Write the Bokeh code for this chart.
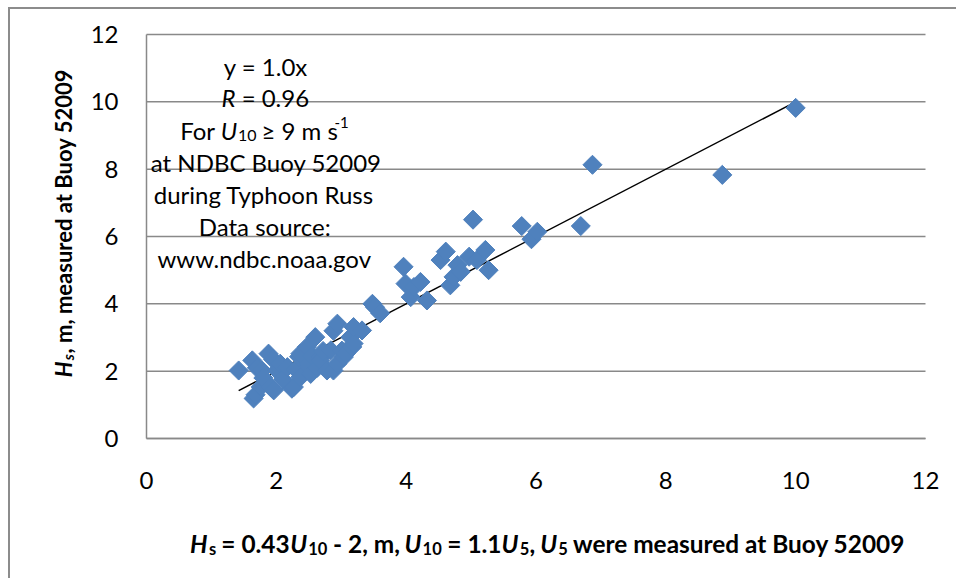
import math
from bokeh.plotting import figure
from bokeh.models import Label, FixedTicker
from bokeh.embed import file_html
from bokeh.resources import INLINE

# ---------------- data ----------------
x_pred = [1.42, 1.65, 1.68, 1.63, 1.70, 1.78, 1.76, 1.80, 1.88, 1.91, 1.96, 1.95,
          2.01, 2.06, 2.10, 2.17, 2.24, 2.27, 2.30, 2.35, 2.37, 2.37, 2.47, 2.50,
          2.53, 2.55, 2.60, 2.63, 2.68, 2.68, 2.72, 2.78, 2.84, 2.88, 2.88, 2.94,
          2.94, 3.01, 3.04, 3.07, 3.14, 3.17, 3.19, 3.19, 3.32, 3.48, 3.52, 3.60,
          3.96, 3.99, 4.07, 4.12, 4.22, 4.32, 4.53, 4.61, 4.68, 4.73, 4.79, 4.84,
          4.97, 5.03, 5.09, 5.22, 5.27, 5.78, 5.93, 6.02, 6.69, 6.87, 8.87, 10.0]
y_meas = [2.02, 1.19, 1.30, 2.32, 2.10, 2.02, 1.53, 1.80, 2.52, 1.53, 1.43, 2.35,
          2.02, 2.22, 1.75, 2.12, 1.48, 1.53, 2.05, 2.43, 2.52, 1.82, 2.72, 2.22,
          1.92, 2.45, 3.01, 2.10, 2.42, 2.32, 2.60, 2.02, 2.62, 2.02, 3.20, 2.22,
          3.41, 2.61, 2.42, 2.52, 3.01, 2.72, 2.82, 3.31, 3.21, 4.00, 3.90, 3.72,
          5.10, 4.60, 4.20, 4.50, 4.65, 4.10, 5.30, 5.55, 4.55, 4.80, 5.15, 4.95,
          5.40, 6.50, 5.30, 5.60, 5.00, 6.31, 5.92, 6.14, 6.31, 8.13, 7.83, 9.82]
slope = 1.0
x_ticks = [0, 2, 4, 6, 8, 10, 12]
y_ticks = [0, 2, 4, 6, 8, 10, 12]
X_LO, X_HI = 0, 12
Y_LO, Y_HI = 0, 12

# ---------------- layout (page pixels) ----------------
OX, OY = 10, 9            # page offset of the figure (margin + border)
W, H = 958 - OX, 580 - OY
FL, FT, FW, FH = 146, 34, 779, 404   # plot area on the page


def X(px):
    return X_LO + (X_HI - X_LO) * (px - FL) / FW


def Y(py):
    return Y_LO + (Y_HI - Y_LO) * (FT + FH - py) / FH


FONT = "Lato"
GRID = "#898989"
BLUE = "#4F81BD"

# the frame covers the whole canvas; axes are fixed at x=0 / y=0
p = figure(width=W, height=H, title=None,
           x_range=(X(OX), X(958)), y_range=(Y(580), Y(OY)),
           output_backend="svg", toolbar_location=None,
           min_border_left=0, min_border_right=0,
           min_border_top=0, min_border_bottom=0)
p.styles = {"margin-left": "8px", "margin-top": "7px",
            "border-left": "2px solid #8c8c8c", "border-top": "2px solid #8c8c8c"}
p.outline_line_color = None
p.background_fill_color = "white"
p.border_fill_color = "white"
p.xgrid.visible = False
p.ygrid.visible = False

for ax in (p.xaxis[0], p.yaxis[0]):
    ax.major_tick_line_color = None
    ax.minor_tick_line_color = None
    ax.major_tick_out = 0
    ax.major_tick_in = 0
    ax.major_label_text_font = FONT
    ax.major_label_text_font_size = "24px"
    ax.major_label_text_color = "black"
    ax.axis_line_color = GRID
    ax.axis_line_width = 1.5
p.xaxis.ticker = FixedTicker(ticks=x_ticks)
p.yaxis.ticker = FixedTicker(ticks=y_ticks)
p.xaxis.fixed_location = Y_LO
p.yaxis.fixed_location = X_LO
p.xaxis.bounds = (X_LO, X_HI)
p.yaxis.bounds = (Y_LO, Y_HI)
p.xaxis.major_label_standoff = 33
p.yaxis.major_label_standoff = 28

# horizontal gridlines across the plot area
p.segment(x0=[X_LO] * len(y_ticks), y0=y_ticks, x1=[X_HI] * len(y_ticks), y1=y_ticks,
          line_color=GRID, line_width=1.5)

# trend line y = slope * x over the data range
x0, x1 = min(x_pred), max(x_pred)
p.line([x0, x1], [slope * x0, slope * x1], line_color="black", line_width=1.5)

p.scatter(x_pred, y_meas, marker="square", size=13.5, angle=math.pi / 4,
          fill_color=BLUE, line_color=BLUE)

# ---------------- texts ----------------
WID = {' ': .20, '.': .22, ',': .22, ':': .24, '=': .58, '≥': .58, '-': .37,
       'a': .49, 'b': .565, 'c': .47, 'd': .565, 'e': .53, 'f': .33, 'g': .51,
       'h': .565, 'i': .245, 'l': .245, 'm': .855, 'n': .565, 'o': .565,
       'p': .565, 'r': .385, 's': .43, 't': .365, 'u': .565, 'v': .525,
       'w': .795, 'x': .505, 'y': .525, 'B': .645, 'C': .67, 'D': .75,
       'F': .54, 'H': .755, 'N': .755, 'R': .635, 'T': .585, 'U': .72}
SPACE = 0.20


def tw(t, size, bold):
    return sum(WID.get(c, .58) for c in t) * size * (1.03 if bold else 1.0)


def run(pieces, c, base, vertical=False):
    """Place styled text pieces (page pixel positions) one after another."""
    total = sum(tw(t, s, 'bold' in st) for t, s, st, d in pieces)
    pos = c - total / 2 if not vertical else c + total / 2
    for t, s, st, d in pieces:
        bold = 'bold' in st
        lead = len(t) - len(t.lstrip(' '))
        shown = t.strip(' ')
        w_all = tw(t, s, bold)
        off = lead * SPACE * s * (1.03 if bold else 1.0)
        if not vertical:
            lab = Label(x=X(pos + off), y=Y(base + d), text=shown)
            pos += w_all
        else:
            lab = Label(x=X(base + d), y=Y(pos - off), text=shown, angle=math.pi / 2)
            pos -= w_all
        lab.text_font = FONT
        lab.text_font_size = f"{s}px"
        lab.text_font_style = st
        lab.text_color = "black"
        lab.text_align = "left"
        lab.text_baseline = "alphabetic"
        p.add_layout(lab)


CX = 264
box_lines = [
    [("y = 1.0x", 24, "normal", 0)],
    [("R", 24, "italic", 0), (" = 0.96", 24, "normal", 0)],
    [("For ", 24, "normal", 0), ("U", 24, "italic", 0), ("10", 16, "normal", 5),
     (" ≥ 9 m s", 24, "normal", 0), ("-1", 15, "normal", -8)],
    [("at NDBC Buoy 52009", 24, "normal", 0)],
    [("during Typhoon Russ", 24, "normal", 0)],
    [("Data source:", 24, "normal", 0)],
    [("www.ndbc.noaa.gov", 24, "normal", 0)],
]
baselines = [66, 97, 130, 162, 194, 226, 258]
for pcs, b in zip(box_lines, baselines):
    run(pcs, CX, b)

BI, B = "bold italic", "bold"
xtitle = [("H", 24.4, BI, 0), ("s", 16.5, B, 5), (" = 0.43", 24.4, B, 0),
          ("U", 24.4, BI, 0), ("10", 16.5, B, 5), (" - 2, m, ", 24.4, B, 0),
          ("U", 24.4, BI, 0), ("10", 16.5, B, 5), (" = 1.1", 24.4, B, 0),
          ("U", 24.4, BI, 0), ("5", 16.5, B, 5), (", ", 24.4, B, 0),
          ("U", 24.4, BI, 0), ("5", 16.5, B, 5),
          (" were measured at Buoy 52009", 24.4, B, 0)]
run(xtitle, 550, 543)

ytitle = [("H", 22, BI, 0), ("s", 15, BI, 4),
          (", m, measured at Buoy 52009", 22, B, 0)]
run(ytitle, 221, 63, vertical=True)

open("out.html", "w").write(file_html(p, INLINE))
